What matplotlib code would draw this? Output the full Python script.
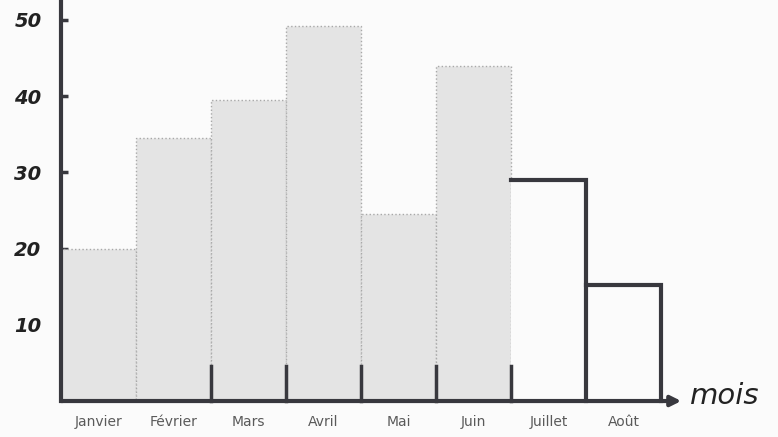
import matplotlib
matplotlib.use("Agg")
import matplotlib.pyplot as plt

months = ["Janvier", "Février", "Mars", "Avril", "Mai", "Juin", "Juillet", "Août"]
values = [20, 34.5, 39.5, 49.2, 24.5, 44, 29, 15.2]
filled = [True, True, True, True, True, True, False, False]
yticks = [10, 20, 30, 40, 50]
xlabel = "mois"

dark = "#38383e"
fig = plt.figure(figsize=(7.78, 4.37), dpi=100, facecolor="#fbfbfb")
ax = fig.add_axes([0, 0, 1, 1])
ax.set_facecolor("#fbfbfb")
ax.set_xlim(-0.813, 9.56)
ax.set_ylim(-4.72, 52.6)

for i, (v, f) in enumerate(zip(values, filled)):
    if f:
        ax.bar(i, v, width=1, align="edge", color="#e4e4e4",
               edgecolor="#a8a8a8", linewidth=1.0, linestyle=":", zorder=2)
    else:
        ax.bar(i, v, width=1, align="edge", color="#fbfbfb",
               edgecolor="none", zorder=2)
        # top and right edge in thick dark pen
        ax.plot([i, i + 1, i + 1], [v, v, 0], color=dark, lw=3,
                solid_joinstyle="miter", zorder=4)

# short dark pen marks at bar boundaries near the base
for i in range(2, 7):
    ax.plot([i, i], [0, 4.6], color=dark, lw=2.5, zorder=3)

# axes
for s in ["top", "right"]:
    ax.spines[s].set_visible(False)
ax.spines["left"].set_position(("data", 0))
ax.spines["left"].set_bounds(0, 52.6)
ax.spines["left"].set_linewidth(3)
ax.spines["left"].set_color(dark)
ax.spines["left"].set_zorder(5)
ax.spines["bottom"].set_position(("data", 0))
ax.spines["bottom"].set_visible(False)

ax.set_yticks(yticks)
ax.set_yticklabels([str(t) for t in yticks], fontsize=14, fontweight="bold",
                   fontstyle="italic", color="#222222")
ax.tick_params(axis="y", direction="in", length=5, width=2.5, color=dark, pad=14)

ax.set_xticks([i + 0.5 for i in range(len(months))])
ax.set_xticklabels(months, fontsize=10, color="#5a5a5a", family="DejaVu Sans")
ax.tick_params(axis="x", length=0, pad=10)

ax.annotate("", xy=(8.27, 0), xytext=(0, 0),
            arrowprops=dict(arrowstyle="-|>,head_length=0.6,head_width=0.3",
                            lw=3, color=dark, shrinkA=0, shrinkB=0), zorder=5)
ax.text(8.38, 0.6, xlabel, fontsize=21, fontstyle="italic", color="#222222",
        ha="left", va="center")

fig.savefig("out.png", dpi=100, facecolor=fig.get_facecolor())
